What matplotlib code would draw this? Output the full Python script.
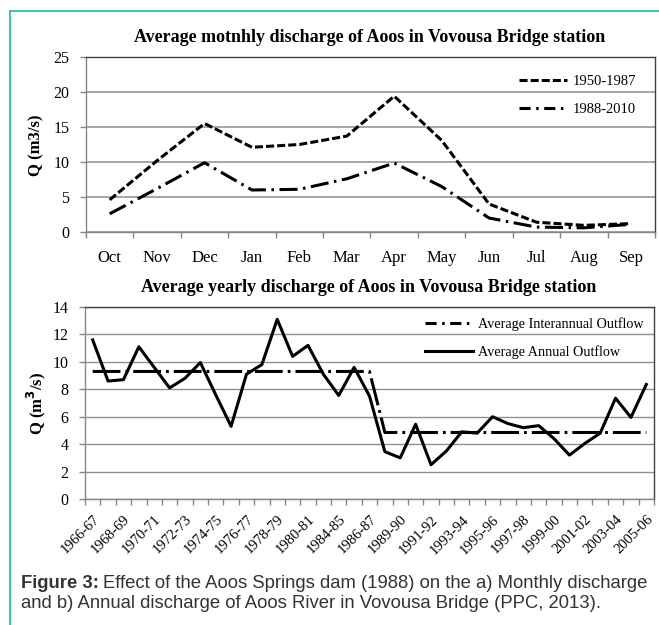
import matplotlib
matplotlib.use("Agg")
import matplotlib.pyplot as plt  # noqa: E402
from matplotlib.lines import Line2D  # noqa: E402
from matplotlib.ticker import FixedLocator, NullFormatter  # noqa: E402
import numpy as np  # noqa: E402

# ── data ──
months = ["Oct", "Nov", "Dec", "Jan", "Feb", "Mar", "Apr", "May", "Jun", "Jul", "Aug", "Sep"]
q_1950_1987 = [4.6, 10.2, 15.5, 12.1, 12.5, 13.7, 19.4, 13.1, 4.0, 1.4, 0.95, 1.2]
q_1988_2010 = [2.6, 6.2, 9.9, 6.0, 6.1, 7.6, 9.85, 6.5, 2.0, 0.7, 0.6, 1.1]

hydro_years = [
    "1966-67", "1967-68", "1968-69", "1969-70", "1970-71", "1971-72", "1972-73",
    "1973-74", "1974-75", "1975-76", "1976-77", "1977-78", "1978-79", "1979-80",
    "1980-81", "1982-83", "1984-85", "1985-86", "1986-87", "1987-88", "1989-90",
    "1990-91", "1991-92", "1992-93", "1993-94", "1994-95", "1995-96", "1996-97",
    "1997-98", "1998-99", "1999-00", "2000-01", "2001-02", "2002-03", "2003-04",
    "2004-05", "2005-06",
]
annual_outflow = [
    11.6, 8.6, 8.7, 11.1, 9.6, 8.1, 8.8, 9.95, 7.6, 5.3, 9.1, 9.8, 13.1, 10.4,
    11.2, 9.1, 7.55, 9.6, 7.5, 3.45, 3.0, 5.45, 2.5, 3.5, 4.9, 4.8, 6.0, 5.5,
    5.2, 5.35, 4.4, 3.2, 4.05, 4.8, 7.35, 5.95, 8.35,
]
interannual_outflow = [
    9.3, 9.3, 9.3, 9.3, 9.3, 9.3, 9.3, 9.3, 9.3, 9.3, 9.3, 9.3, 9.3, 9.3,
    9.3, 9.3, 9.3, 9.3, 9.3, 4.85, 4.85, 4.85, 4.85, 4.85, 4.85, 4.85, 4.85, 4.85,
    4.85, 4.85, 4.85, 4.85, 4.85, 4.85, 4.85, 4.85, 4.85,
]

plt.rcParams["font.family"] = ["Liberation Serif", "DejaVu Serif"]
plt.rcParams["lines.scale_dashes"] = False

W, H = 659, 625
TEAL = "#1abc9c"
GRID = "#a6a6a6"
AXIS = "#868686"
FRAME = "#404040"


def box(left, top, right, bottom):
    return [left / W, 1 - bottom / H, (right - left) / W, (bottom - top) / H]


def style_axes(ax, n, ymax, ystep, grid_color, grid_lw):
    ax.set_xlim(-0.5, n - 0.5)
    ax.set_ylim(0, ymax)
    ax.set_yticks(np.arange(0, ymax + 0.01, ystep))
    ax.xaxis.set_minor_locator(FixedLocator(np.arange(n + 1) - 0.5))
    ax.xaxis.set_minor_formatter(NullFormatter())
    ax.tick_params(axis="x", which="major", length=0, labelsize=12)
    ax.tick_params(axis="x", which="minor", length=4, color=AXIS, width=1)
    ax.tick_params(axis="y", length=4, color=AXIS, width=1, labelsize=11.5, pad=8)
    ax.yaxis.grid(True, color=grid_color, lw=grid_lw)
    ax.set_axisbelow(True)
    for s in ("left", "bottom"):
        ax.spines[s].set_color(AXIS)
        ax.spines[s].set_linewidth(1.0)
    for s in ("top", "right"):
        ax.spines[s].set_color(FRAME)
        ax.spines[s].set_linewidth(1.0)


fig = plt.figure(figsize=(W / 100, H / 100), dpi=100)

# teal page frame (left and top edges)
fig.add_artist(Line2D([9.5 / W, 9.5 / W], [0, 1 - 10.5 / H], color=TEAL, lw=1.2))
fig.add_artist(Line2D([9.5 / W, 1], [1 - 10.5 / H, 1 - 10.5 / H], color=TEAL, lw=1.2))

# ── a) monthly discharge ──
ax1 = fig.add_axes(box(86, 57, 655, 232))
x1 = np.arange(len(months))
ax1.plot(x1, q_1950_1987, color="black", lw=2.2, dashes=(5.8, 2.2), label="1950-1987")
ax1.plot(x1, q_1988_2010, color="black", lw=2.2, dashes=(13, 4, 1.8, 4), label="1988-2010")
style_axes(ax1, len(months), 25, 5, GRID, 1.4)
ax1.set_xticks(x1)
ax1.set_xticklabels(months)
ax1.tick_params(axis="x", which="major", pad=13)
h1 = [Line2D([], [], color="black", lw=2.2, dashes=(5.8, 2.2)),
      Line2D([], [], color="black", lw=2.2, dashes=(8, 4, 1.8, 4))]
ax1.legend(h1, ["1950-1987", "1988-2010"], loc="upper left",
           bbox_to_anchor=((519 - 86) / 569, 0.9), frameon=False, fontsize=10.5,
           handlelength=3.3, handletextpad=0.35, labelspacing=1.05,
           borderpad=0, borderaxespad=0)
fig.text(370 / W, 1 - 38 / H, "Average motnhly discharge of Aoos in Vovousa Bridge station",
         ha="center", va="center", fontsize=13, fontweight="bold")
fig.text(36 / W, 1 - 145 / H, "Q (m3/s)", rotation=90, ha="center", va="center",
         fontsize=12, fontweight="bold")

# ── b) annual discharge ──
ax2 = fig.add_axes(box(85, 307, 654, 499))
x2 = np.arange(len(hydro_years))
ax2.plot(x2, interannual_outflow, color="black", lw=2.2, dashes=(20, 3.6, 2.0, 3.6),
         label="Average Interannual Outflow")
ax2.plot(x2, annual_outflow, color="black", lw=2.2, label="Average Annual Outflow")
style_axes(ax2, len(hydro_years), 14, 2, "#909090", 1.0)
ax2.set_xticks(x2[::2])
ax2.set_xticklabels(hydro_years[::2], fontsize=10.5)
plt.setp(ax2.get_xticklabels(), rotation=45, ha="right", rotation_mode="anchor")
ax2.tick_params(axis="x", which="major", pad=10)
h2 = [Line2D([], [], color="black", lw=2.2, dashes=(8, 4, 1.8, 4)),
      Line2D([], [], color="black", lw=2.2)]
ax2.legend(h2, ["Average Interannual Outflow", "Average Annual Outflow"], loc="upper left",
           bbox_to_anchor=((425 - 85) / 569, 0.945), frameon=False, fontsize=10.2,
           handlelength=3.4, handletextpad=0.35, labelspacing=0.95,
           borderpad=0, borderaxespad=0)
fig.text(369 / W, 1 - 288 / H, "Average yearly discharge of Aoos in Vovousa Bridge station",
         ha="center", va="center", fontsize=13, fontweight="bold")
fig.text(36 / W, 1 - 403 / H, r"Q (m$\mathbf{^3}$/s)", rotation=90, ha="center", va="center",
         fontsize=12, fontweight="bold")

# ── caption ──
cap_font = ["Liberation Sans", "DejaVu Sans"]
t = fig.text(21 / W, 1 - 588 / H, "Figure 3:", ha="left", va="baseline", fontsize=13.3,
             fontweight="bold", color="#333333", family=cap_font)
fig.canvas.draw()
bb = t.get_window_extent()
fig.text((bb.x1 + 4) / W, 1 - 588 / H,
         "Effect of the Aoos Springs dam (1988) on the a) Monthly discharge",
         ha="left", va="baseline", fontsize=13.3, color="#333333", family=cap_font)
fig.text(21 / W, 1 - 608 / H,
         "and b) Annual discharge of Aoos River in Vovousa Bridge (PPC, 2013).",
         ha="left", va="baseline", fontsize=13.3, color="#333333", family=cap_font)

fig.savefig("out.png", dpi=100)
